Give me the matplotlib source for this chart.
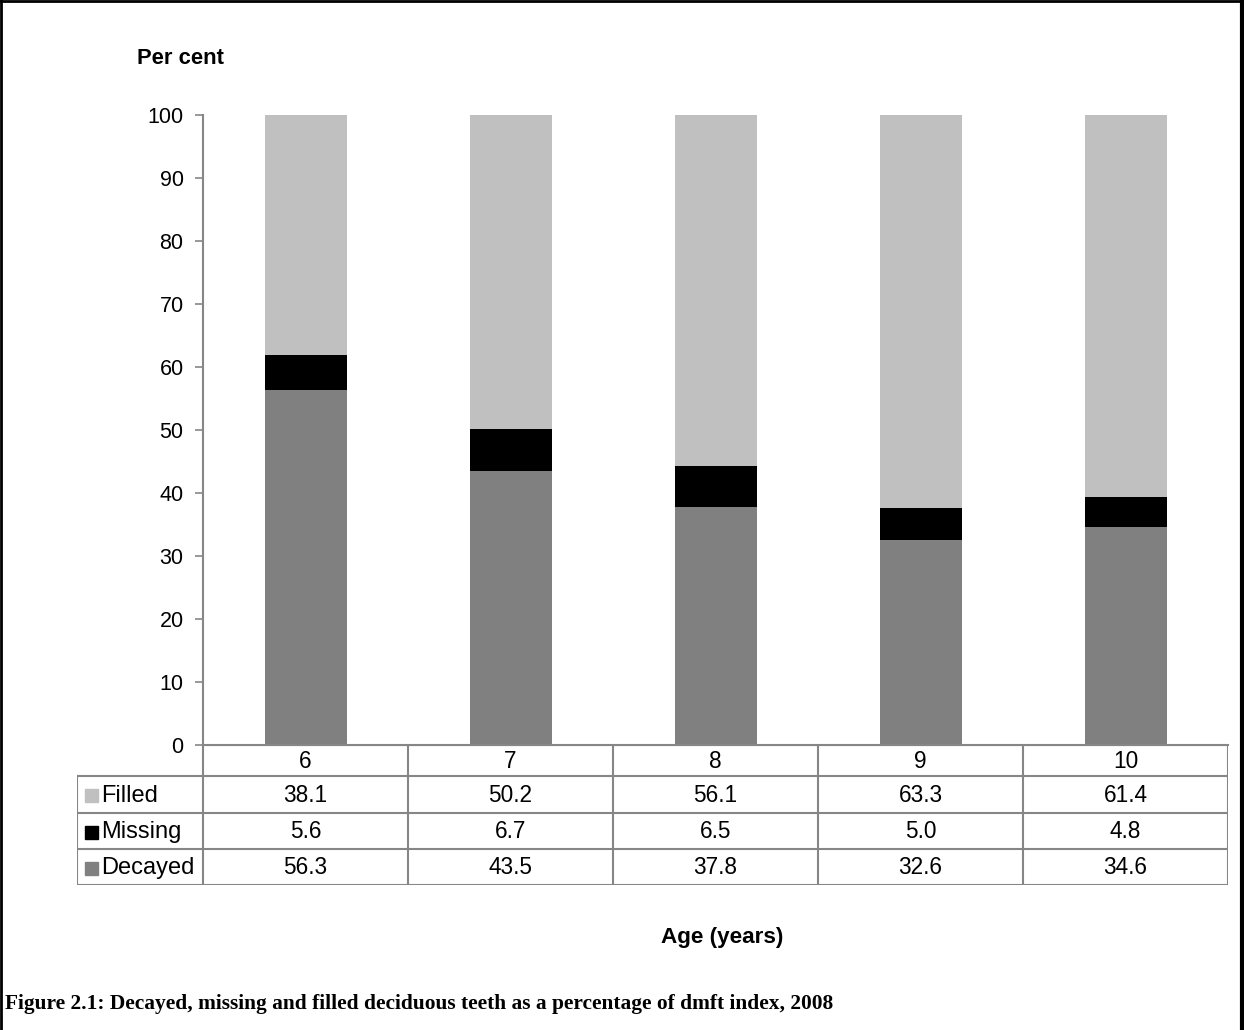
import matplotlib
matplotlib.use("Agg")
import matplotlib.pyplot as plt
from matplotlib.patches import Rectangle
from matplotlib.lines import Line2D
import numpy as np

ages = ["6", "7", "8", "9", "10"]
decayed = [56.3, 43.5, 37.8, 32.6, 34.6]
missing = [5.6, 6.7, 6.5, 5.0, 4.8]
filled = [38.1, 50.2, 56.1, 63.3, 61.4]
y_ticks = [0, 10, 20, 30, 40, 50, 60, 70, 80, 90, 100]

c_filled = "#C0C0C0"
c_missing = "#000000"
c_decayed = "#808080"
grid_c = "#868686"

plt.rcParams["font.family"] = ["Liberation Sans", "DejaVu Sans"]
FS = 15.5
FS_TAB = 16.3
FS_ROW = 17

W, H = 1244, 1030
fig = plt.figure(figsize=(W / 100, H / 100), dpi=100)

def fx(px):
    return px / W

def fy(py):
    return 1 - py / H

# chart area
ax_l, ax_r, ax_t, ax_b = 203, 1228, 115, 745
ax = fig.add_axes([fx(ax_l), fy(ax_b), fx(ax_r - ax_l), (ax_b - ax_t) / H])
x = np.arange(len(ages))
bw = 0.4
ax.bar(x, decayed, bw, color=c_decayed, linewidth=0)
ax.bar(x, missing, bw, bottom=decayed, color=c_missing, linewidth=0)
bottom2 = np.array(decayed) + np.array(missing)
ax.bar(x, filled, bw, bottom=bottom2, color=c_filled, linewidth=0)
ax.set_xlim(-0.5, len(ages) - 0.5)
ax.set_ylim(0, 100)
ax.set_yticks(y_ticks)
ax.set_yticklabels([str(t) for t in y_ticks], fontsize=FS)
ax.tick_params(axis="y", direction="out", length=6, width=1.2, color=grid_c, pad=8)
ax.set_xticks([])
for s in ["top", "right"]:
    ax.spines[s].set_visible(False)
ax.spines["left"].set_color(grid_c)
ax.spines["left"].set_linewidth(1.5)
ax.spines["bottom"].set_color(grid_c)
ax.spines["bottom"].set_linewidth(1.5)

# data table below the chart, columns aligned with the bars
tab_l = 77
rows_px = [745, 776, 813, 849, 885]
unit = (ax_r - ax_l) / len(ages)
x_left = -0.5 - (ax_l - tab_l) / unit
tax = fig.add_axes([fx(tab_l), fy(rows_px[-1]), fx(ax_r - tab_l), (rows_px[-1] - rows_px[0]) / H])
tax.set_xlim(x_left, len(ages) - 0.5)
tax.set_ylim(rows_px[-1], rows_px[0])
tax.axis("off")
lw = 1.5
tax.add_line(Line2D([-0.5, len(ages) - 0.5], [rows_px[0]] * 2, color=grid_c, lw=lw))
for r in rows_px[1:]:
    tax.add_line(Line2D([x_left, len(ages) - 0.5], [r] * 2, color=grid_c, lw=lw))
for i in range(len(ages) + 1):
    tax.add_line(Line2D([i - 0.5] * 2, [rows_px[0], rows_px[-1]], color=grid_c, lw=lw))
tax.add_line(Line2D([x_left] * 2, [rows_px[1], rows_px[-1]], color=grid_c, lw=lw))

for i, a in enumerate(ages):
    tax.text(i, (rows_px[0] + rows_px[1]) / 2 + 1, a, ha="center", va="center", fontsize=FS_TAB)
series = [("Filled", filled, c_filled), ("Missing", missing, c_missing), ("Decayed", decayed, c_decayed)]
for k, (name, vals, col) in enumerate(series):
    yc = (rows_px[k + 1] + rows_px[k + 2]) / 2 + 1
    for i, v in enumerate(vals):
        tax.text(i, yc, f"{v:.1f}", ha="center", va="center", fontsize=FS_TAB)
    # legend key and row label
    fig.patches.append(Rectangle((fx(85), fy(yc + 6.5)), fx(13), 13 / H, color=col,
                                 transform=fig.transFigure, figure=fig))
    fig.text(fx(101), fy(yc), name, ha="left", va="center", fontsize=FS_ROW)

# axis titles
fig.text(fx(137), fy(58), "Per cent", ha="left", va="center", fontsize=15.8, fontweight="bold")
fig.text(fx(722), fy(937), "Age (years)", ha="center", va="center", fontsize=16.2, fontweight="bold")

# caption
fig.text(fx(5), fy(1004), "Figure 2.1: Decayed, missing and filled deciduous teeth as a percentage of dmft index, 2008",
         ha="left", va="center", fontsize=15.4, fontweight="bold", family=["Liberation Serif", "DejaVu Serif"])

# frame around the chart
for xs, ys, w in [([fx(1), fx(1)], [0, 1], 2.0), ([0, 1], [fy(1), fy(1)], 2.0),
                  ([fx(1242), fx(1242)], [0, 1], 3.0)]:
    fig.add_artist(Line2D(xs, ys, color="black", lw=w, transform=fig.transFigure))

fig.savefig("out.png", dpi=100)
